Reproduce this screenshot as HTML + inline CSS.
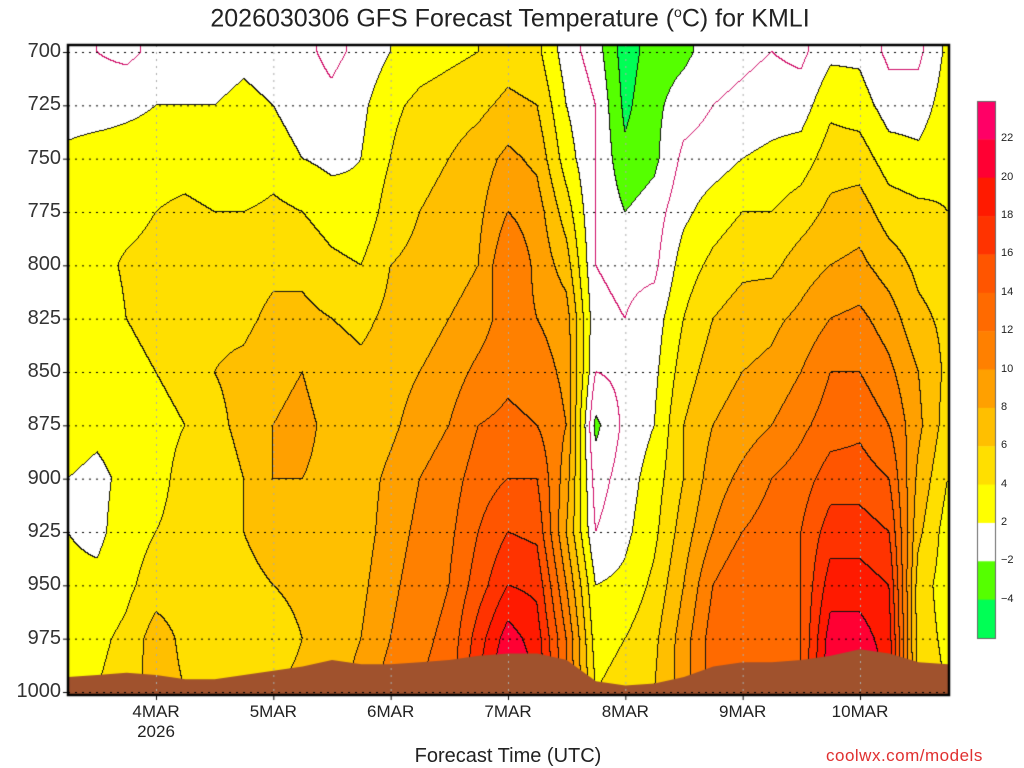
<!DOCTYPE html>
<html><head><meta charset="utf-8">
<style>
body{margin:0;background:#fff;width:1024px;height:768px;overflow:hidden;position:relative;font-family:"Liberation Sans",sans-serif}
.t{position:absolute;white-space:nowrap;color:#222}
.yl{position:absolute;left:0;width:61px;text-align:right;font-size:20px;color:#333}
.xl{position:absolute;width:100px;text-align:center;font-size:17px;color:#222}
</style></head><body>
<div class="t" style="left:0;width:1020px;text-align:center;top:4px;font-size:25px">2026030306 GFS Forecast Temperature (<sup style="font-size:14px">o</sup>C) for KMLI</div>
<canvas id="cv" width="1024" height="768" style="position:absolute;left:0;top:0"></canvas>
<div id="labels"></div>
<div class="t" style="left:0;width:1016px;text-align:center;top:745px;font-size:20px">Forecast Time (UTC)</div>
<div class="t" style="left:826px;top:746px;font-size:17px;color:#e03030;letter-spacing:0.5px">coolwx.com/models</div>
<script>
const levels=[700,725,750,775,800,825,850,875,900,925,950,975,1000];
const days=['4MAR','5MAR','6MAR','7MAR','8MAR','9MAR','10MAR'];
const binEdges=[-4,-2,2,4,6,8,10,12,14,16,18,20,22];
const binColors=['#00ff55','#55ff00','#ffffff','#ffff00','#ffdf00','#ffbf00','#ffa000','#ff8000','#ff6a00','#ff5500','#ff3300','#ff1a00','#ff0033','#ff0066'];
const cbLabels=['22','20','18','16','14','12','10','8','6','4','2','\u22122','\u22124'];
const surfP=[993,992,991,992,994,994,992,990,988,985,987,987,986,985,983,982,982,985,995,997,996,993,988,986,986,985,983,980,982,986,987];
const T=[
[0,1,2.5,3,3,3,3,3,2,2,2.5,3,3],
[0,1,3,3.5,3.5,3,3,2.5,1.5,1.5,2.5,3.5,4],
[-0.5,1.5,3,3.5,4.2,4,3.5,3,2.5,3,3.5,4.5,5],
[0.5,2,3,4,4.5,4.5,4,3.5,3.5,4,5,7,7],
[0.5,2,3,4.5,5,5,4.5,4,4.5,4.5,5,5.5,6],
[1,2,2.5,4,5,5.5,6,5.5,5,5,5,4.5,5],
[1.5,2.5,2,4,5,5.5,6.5,6.5,6,6,5,4,5],
[1,2,3,4.5,5.5,6.5,7.5,8,8,7.5,6,5,6],
[0.5,1,2,4,5.5,6.5,8,8.5,8,7.5,6.5,6,6.5],
[-0.5,0.5,1.5,3,4.5,6,7,7.5,7.5,7,6.5,6.5,7],
[0.5,1.5,2,2.5,4,5.5,6.5,6.5,7,7,7.5,8,9],
[2,3.5,4,5,6,6.5,7,7.5,8.5,9,9.5,10,11],
[3,4.5,5.5,6,6.5,7,8,9,10,10.5,11,11.5,12],
[3.5,5,6,6.5,7,8,9,10,11,11.5,12,12.5,13],
[4,5.5,7,7.5,8,9,10.5,12,13,14,15,17,18],
[5,6.5,8.5,10,12,11,11.5,12.5,14,16,18,21,23],
[4.5,6,7.5,9,9.5,10,11,12,14,15.5,17.5,19,20],
[1,2,3,5,7,9,9.5,10,9,8,10,12,12],
[-1,0,0,0,0,0.5,0,-2.5,-1,0,2,3,4],
[-5,-4.5,-3.5,-2,-0.5,0,0.5,0.5,1,1.5,2.5,4,5],
[-3,-2.5,-2.5,-1,-0.5,1,1.5,2,3,3.5,4.5,5.5,6],
[-2.5,-1,0.5,1.5,3,4,5,6,6,7,8,9,9],
[-1,0,1,3,4.5,6,7,8,9,10,12,13,13],
[-0.5,0.5,2,4,5.5,7,8,9,10.5,12,14,14,14],
[0,1,2.5,4,5.5,7.5,8.5,10,12,13,13,13,13],
[-0.5,1,3,5,7,8.5,10,11.5,13,14,14,14,14],
[1.5,3.5,5,6.5,8,10,12,13,15,17,19,21,22],
[1.5,3,5,7,8.5,10.5,12,13.5,15,17,19,21,22],
[-0.5,1,3,5,7,9,10.5,12,14,16,18,19,20],
[-0.5,1,2.5,4.5,5.5,6.5,8,8.5,7.5,6.5,5,5,5],
[2.5,3,3.5,4,5,5.5,5.5,5,4,3,3,3.5,4]];
const X0=68,X1=948,Y0=45,Y1=694;
const nT=T.length;
const xOf=i=>X0+(X1-X0)*i/(nT-1);
const yOf=p=>52+(p-700)*(692-52)/300;
function tempAt(ti,li){
  ti=Math.max(0,Math.min(nT-1,ti));li=Math.max(0,Math.min(levels.length-1,li));
  const a=Math.min(nT-2,Math.floor(ti)),b=Math.min(levels.length-2,Math.floor(li));
  const fa=ti-a,fb=li-b;
  return T[a][b]*(1-fa)*(1-fb)+T[a+1][b]*fa*(1-fb)+T[a][b+1]*(1-fa)*fb+T[a+1][b+1]*fa*fb;
}
function bin(v){let k=0;while(k<binEdges.length&&v>=binEdges[k])k++;return k;}
function hex(h){return [parseInt(h.substr(1,2),16),parseInt(h.substr(3,2),16),parseInt(h.substr(5,2),16)];}
const rgb=binColors.map(hex);
const cv=document.getElementById('cv'),c=cv.getContext('2d');
const W=X1-X0,H=Y1-Y0;
const tg=new Float32Array(W*H),bg=new Int8Array(W*H);
for(let j=0;j<H;j++)for(let i=0;i<W;i++){
  const x=X0+i+0.5,y=Y0+j+0.5;
  const ti=(x-X0)/(X1-X0)*(nT-1);
  const p=700+(y-52)*300/640;
  const v=tempAt(ti,(p-700)/25);
  tg[j*W+i]=v;bg[j*W+i]=bin(v);
}
const img=c.createImageData(W,H);
for(let j=0;j<H;j++)for(let i=0;i<W;i++){
  const k=j*W+i,b=bg[k];let col=rgb[b];
  const r=i+1<W?k+1:k,d=j+1<H?k+W:k;
  const s=tg[k]>=0;
  if(bg[r]!==b||bg[d]!==b)col=[17,17,17];
  else if((tg[r]>=0)!==s||(tg[d]>=0)!==s)col=[208,16,106];
  img.data[k*4]=col[0];img.data[k*4+1]=col[1];img.data[k*4+2]=col[2];img.data[k*4+3]=255;
}
c.putImageData(img,X0,Y0);
// terrain
c.fillStyle='#a0522d';c.beginPath();c.moveTo(X0,Y1);
surfP.forEach((p,i)=>c.lineTo(xOf(i),yOf(p)));
c.lineTo(X1,Y1);c.closePath();c.fill();
// grid lines
c.strokeStyle='#000';c.lineWidth=1;c.setLineDash([2,5]);
levels.forEach(p=>{c.beginPath();c.moveTo(X0,yOf(p)+0.5);c.lineTo(X1,yOf(p)+0.5);c.stroke();});
c.strokeStyle='#aaa';
days.forEach((d,k)=>{const x=xOf(3+4*k);c.beginPath();c.moveTo(x+0.5,Y0);c.lineTo(x+0.5,Y1);c.stroke();});
c.setLineDash([]);
// frame
c.strokeStyle='#000';c.lineWidth=2.5;c.strokeRect(X0,Y0,X1-X0+1,Y1-Y0+1);
c.lineWidth=1;
levels.forEach(p=>{c.beginPath();c.moveTo(X0-5,yOf(p)+0.5);c.lineTo(X0,yOf(p)+0.5);c.stroke();});
days.forEach((d,k)=>{const x=xOf(3+4*k);c.beginPath();c.moveTo(x+0.5,Y1);c.lineTo(x+0.5,Y1+6);c.stroke();});
// colorbar
const CB0=101,CB1=638,bh=(CB1-CB0)/binColors.length;
for(let k=0;k<binColors.length;k++){c.fillStyle=binColors[binColors.length-1-k];c.fillRect(977,CB0+k*bh,18,bh+0.5);}
c.strokeStyle='#666';c.strokeRect(977.5,CB0+0.5,18,CB1-CB0);
const L=document.getElementById('labels');
levels.forEach(p=>{const d=document.createElement('div');d.className='yl';d.style.top=(yOf(p)-12)+'px';d.textContent=p;


L.appendChild(d);});
days.forEach((s,k)=>{const d=document.createElement('div');d.className='xl';d.style.left=(xOf(3+4*k)-50)+'px';d.style.top='702px';d.innerHTML=s+(k===0?'<br>2026':'');d.style.lineHeight='20px';


L.appendChild(d);});
cbLabels.forEach((s,k)=>{const d=document.createElement('div');d.className='t';d.style.left='1001px';d.style.top=(CB0+(k+1)*bh-7)+'px';d.style.fontSize='11px';d.textContent=s;


L.appendChild(d);});
</script>
</body></html>
